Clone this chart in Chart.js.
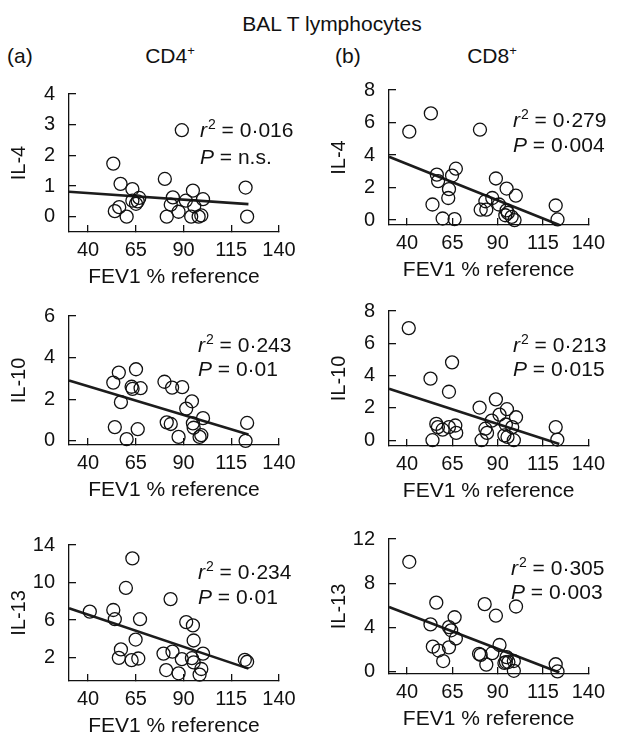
<!DOCTYPE html>
<html>
<head>
<meta charset="utf-8">
<script src="https://cdn.jsdelivr.net/npm/chart.js@4.4.1/dist/chart.umd.min.js"></script>
<style>
  body { margin: 0; background: #fff; }
  #page { position: relative; width: 618px; height: 740px; font-family: "Liberation Sans", Arial, sans-serif; color: #111; }
  .lbl { position: absolute; font-size: 21px; line-height: 21px; white-space: nowrap; }
  .mid { transform: translateX(-50%); }
  .lbl sup { font-size: 13px; vertical-align: 8px; line-height: 0; }
  canvas { position: absolute; }
</style>
</head>
<body>
<div id="page">
  <div class="lbl mid" style="left:332px; top:13px;">BAL T lymphocytes</div>
  <div class="lbl" style="left:7px; top:45px;">(a)</div>
  <div class="lbl mid" style="left:170px; top:45px;">CD4<sup>+</sup></div>
  <div class="lbl" style="left:335px; top:45px;">(b)</div>
  <div class="lbl mid" style="left:492px; top:45px;">CD8<sup>+</sup></div>
</div>
<script>
"use strict";

// x axis (FEV1 % reference) ticks, shared by all panels
const fevTicks = [40, 65, 90, 115, 140];
const fitX = [30, 124];

// CD4+ IL-4
const cd4Il4X = [53.2, 57.0, 54.0, 56.3, 60.2, 63.2, 63.2, 65.1, 66.8, 66.0, 80.2, 81.2, 83.3, 84.4, 87.4, 89.1, 91.2, 94.9, 95.6, 94.0, 97.9, 99.3, 100.2, 122.5, 123.3];
const cd4Il4Y = [1.73, 1.07, 0.18, 0.31, 0.0, 0.9, 0.52, 0.42, 0.61, 0.5, 1.23, 0.0, 0.39, 0.63, 0.16, 2.82, 0.52, 0.85, 0.34, 0.0, 0.0, 0.04, 0.57, 0.95, 0.0];
const cd4Il4Fit = [0.81, 0.41];
const cd4Il4Ticks = [0, 1, 2, 3, 4];

// CD8+ IL-4
const cd8Il4X = [41.2, 53.1, 80.2, 56.4, 57.1, 66.9, 64.8, 63.1, 62.7, 54.0, 59.6, 66.2, 89.0, 94.9, 100.0, 87.0, 83.2, 80.6, 83.7, 90.7, 94.9, 94.2, 95.6, 97.7, 99.3, 122.0, 123.0];
const cd8Il4Y = [5.44, 6.56, 5.56, 2.8, 2.4, 3.16, 2.74, 1.9, 1.36, 0.96, 0.1, 0.06, 2.56, 1.94, 1.5, 1.36, 1.16, 0.64, 0.64, 0.96, 0.6, 0.3, 0.44, 0.2, 0.0, 0.9, 0.04];
const cd8Il4Fit = [3.9, -0.3];
const cd8Il4Ticks = [0, 2, 4, 6, 8];

// CD4+ IL-10
const cd4Il10X = [53.2, 56.1, 57.2, 54.0, 60.2, 62.8, 63.3, 65.1, 67.5, 66.0, 80.0, 84.0, 89.3, 94.4, 91.4, 81.2, 83.3, 87.4, 94.9, 95.3, 100.2, 98.4, 99.3, 123.3, 122.5];
const cd4Il10Y = [2.8, 3.28, 1.86, 0.66, 0.08, 2.6, 2.5, 3.44, 2.53, 0.56, 2.84, 2.56, 2.58, 1.9, 1.55, 0.89, 0.81, 0.19, 0.84, 0.63, 1.09, 0.19, 0.27, 0.86, 0.0];
const cd4Il10Fit = [2.9, 0.31];
const cd4Il10Ticks = [0, 2, 4, 6];

// CD8+ IL-10
const cd8Il10X = [40.9, 52.9, 64.8, 63.1, 54.0, 56.1, 57.0, 59.6, 63.1, 66.6, 67.1, 80.0, 89.0, 83.2, 84.1, 81.1, 86.7, 91.0, 95.1, 100.1, 94.5, 98.0, 93.7, 95.4, 98.9, 122.0, 122.9];
const cd8Il10Y = [6.94, 3.81, 4.82, 3.0, 0.0, 1.01, 0.81, 0.65, 0.81, 0.91, 0.45, 2.02, 2.53, 0.71, 0.45, 0.0, 1.21, 1.58, 1.92, 1.42, 0.97, 0.81, 0.3, 0.2, 0.0, 0.81, 0.04];
const cd8Il10Fit = [3.19, -0.24];
const cd8Il10Ticks = [0, 2, 4, 6, 8];

// CD4+ IL-13
const cd4Il13X = [40.9, 53.2, 54.0, 63.2, 59.8, 67.2, 64.9, 57.2, 56.1, 62.8, 66.3, 83.2, 91.4, 94.9, 95.3, 79.5, 84.2, 80.9, 87.4, 89.1, 94.4, 95.3, 100.2, 99.3, 98.4, 122.1, 123.3];
const cd4Il13Y = [6.9, 7.07, 6.09, 12.57, 9.42, 6.09, 3.92, 2.87, 1.97, 1.72, 1.9, 8.23, 5.78, 5.43, 3.82, 2.42, 2.63, 0.67, 0.32, 1.83, 1.93, 1.48, 2.42, 0.78, 0.18, 1.76, 1.55];
const cd4Il13Fit = [7.25, 0.82];
const cd4Il13Ticks = [2, 6, 10, 14];

// CD8+ IL-13
const cd8Il13X = [41.2, 56.1, 52.9, 66.2, 63.1, 64.3, 66.9, 54.2, 57.4, 63.1, 59.9, 82.8, 89.0, 100.1, 91.0, 87.0, 79.7, 80.6, 83.7, 94.9, 94.5, 93.7, 95.9, 98.9, 98.9, 122.0, 123.0];
const cd8Il13Y = [9.94, 6.25, 4.28, 4.93, 4.04, 3.75, 3.01, 2.27, 1.92, 2.21, 0.97, 6.11, 5.07, 5.9, 2.42, 1.68, 1.62, 1.53, 0.65, 1.33, 0.88, 0.8, 0.88, 0.97, 0.09, 0.68, 0.03];
const cd8Il13Fit = [5.85, -0.06];
const cd8Il13Ticks = [0, 4, 8, 12];

// r squared and P labels
const r2Labels = ["0·016", "0·279", "0·243", "0·213", "0·234", "0·305"];
const pLabels = ["n.s.", "0·004", "0·01", "0·015", "0·01", "0·003"];

const FONT = "'Liberation Sans', Arial, sans-serif";
const INK = "#111";
Chart.defaults.font.family = FONT;
Chart.defaults.color = INK;

// draws the r^2 / P text in the top right of a panel
const statsText = {
  id: "statsText",
  afterDraw(chart, args, opts) {
    const { ctx, chartArea } = chart;
    const x0 = chartArea.left + opts.dx;
    ctx.save();
    ctx.fillStyle = INK;
    ctx.textAlign = "left";
    ctx.textBaseline = "alphabetic";
    let x = x0;
    let y = chartArea.top + opts.dy;
    ctx.font = "italic 21px " + FONT;
    ctx.fillText("r", x, y);
    x += ctx.measureText("r").width + 1;
    ctx.font = "14px " + FONT;
    ctx.fillText("2", x, y - 8);
    x += ctx.measureText("2").width;
    ctx.font = "21px " + FONT;
    ctx.fillText(" = " + opts.r2, x, y);

    x = x0;
    y = chartArea.top + opts.dy2;
    ctx.font = "italic 21px " + FONT;
    ctx.fillText("P", x, y);
    x += ctx.measureText("P").width;
    ctx.font = "21px " + FONT;
    ctx.fillText(" = " + opts.p, x, y);
    ctx.restore();
  }
};

const panels = [
  { col: 0, box: [69, 91, 279, 232], title: "IL-4", xs: cd4Il4X, ys: cd4Il4Y, fit: cd4Il4Fit, ticks: cd4Il4Ticks, min: -0.5, text: [131, 43, 70] },
  { col: 1, box: [389, 87, 599, 225], title: "IL-4", xs: cd8Il4X, ys: cd8Il4Y, fit: cd8Il4Fit, ticks: cd8Il4Ticks, min: -0.3, text: [124, 37, 62] },
  { col: 0, box: [69, 313, 279, 445], title: "IL-10", xs: cd4Il10X, ys: cd4Il10Y, fit: cd4Il10Fit, ticks: cd4Il10Ticks, min: -0.2, text: [129, 36, 60] },
  { col: 1, box: [389, 308, 599, 446], title: "IL-10", xs: cd8Il10X, ys: cd8Il10Y, fit: cd8Il10Fit, ticks: cd8Il10Ticks, min: -0.36, text: [124, 41, 65] },
  { col: 0, box: [69, 542, 279, 681], title: "IL-13", xs: cd4Il13X, ys: cd4Il13Y, fit: cd4Il13Fit, ticks: cd4Il13Ticks, min: -0.5, text: [129, 34, 59] },
  { col: 1, box: [389, 536, 599, 674], title: "IL-13", xs: cd8Il13X, ys: cd8Il13Y, fit: cd8Il13Fit, ticks: cd8Il13Ticks, min: -0.2, text: [122, 36, 60] }
];

const Y_AXIS_W = 62;
const X_AXIS_H = 58;
const page = document.getElementById("page");

panels.forEach((p, i) => {
  const [L, T, R, B] = p.box;
  const cLeft = p.col * 309;
  const cTop = T - 30;
  const cW = 309;
  const cH = (B - T) + 30 + X_AXIS_H + 4;

  const canvas = document.createElement("canvas");
  canvas.width = cW;
  canvas.height = cH;
  canvas.style.left = cLeft + "px";
  canvas.style.top = cTop + "px";
  canvas.style.width = cW + "px";
  canvas.style.height = cH + "px";
  page.appendChild(canvas);

  const axisLine = { color: INK, width: 1.3 };
  const inwardTicks = { drawOnChartArea: false, drawTicks: true, tickLength: -7, color: INK, lineWidth: 1.3 };

  new Chart(canvas, {
    type: "scatter",
    data: {
      datasets: [
        {
          data: p.xs.map((x, k) => ({ x: x, y: p.ys[k] })),
          pointRadius: 6.5,
          pointHoverRadius: 6.5,
          pointBorderWidth: 1.3,
          pointBorderColor: INK,
          pointBackgroundColor: "rgba(0,0,0,0)",
          clip: false
        },
        {
          type: "line",
          data: fitX.map((x, k) => ({ x: x, y: p.fit[k] })),
          borderColor: "#1c1c1c",
          borderWidth: 2.6,
          pointRadius: 0,
          fill: false,
          clip: false
        }
      ]
    },
    options: {
      responsive: false,
      animation: false,
      events: [],
      layout: { padding: { left: L - cLeft - Y_AXIS_W, top: 30, right: cLeft + cW - R, bottom: 4 } },
      plugins: {
        legend: { display: false },
        tooltip: { enabled: false },
        statsText: { dx: p.text[0], dy: p.text[1], dy2: p.text[2], r2: r2Labels[i], p: pLabels[i] }
      },
      scales: {
        x: {
          type: "linear",
          min: 30,
          max: 140,
          afterBuildTicks: (s) => { s.ticks = fevTicks.map((v) => ({ value: v })); },
          afterFit: (s) => { s.height = X_AXIS_H; },
          ticks: { font: { size: 20 }, color: INK, padding: 13, maxRotation: 0, autoSkip: false },
          grid: inwardTicks,
          border: axisLine,
          title: { display: true, text: "FEV1 % reference", font: { size: 21 }, color: INK, padding: 0 }
        },
        y: {
          type: "linear",
          min: p.min,
          max: p.ticks[p.ticks.length - 1],
          afterBuildTicks: (s) => { s.ticks = p.ticks.map((v) => ({ value: v })); },
          afterFit: (s) => { s.width = Y_AXIS_W; },
          ticks: { font: { size: 20 }, color: INK, padding: 21 },
          grid: inwardTicks,
          border: axisLine,
          title: { display: true, text: p.title, font: { size: 20 }, color: INK, padding: 0 }
        }
      }
    },
    plugins: [statsText]
  });
});
</script>
</body>
</html>
